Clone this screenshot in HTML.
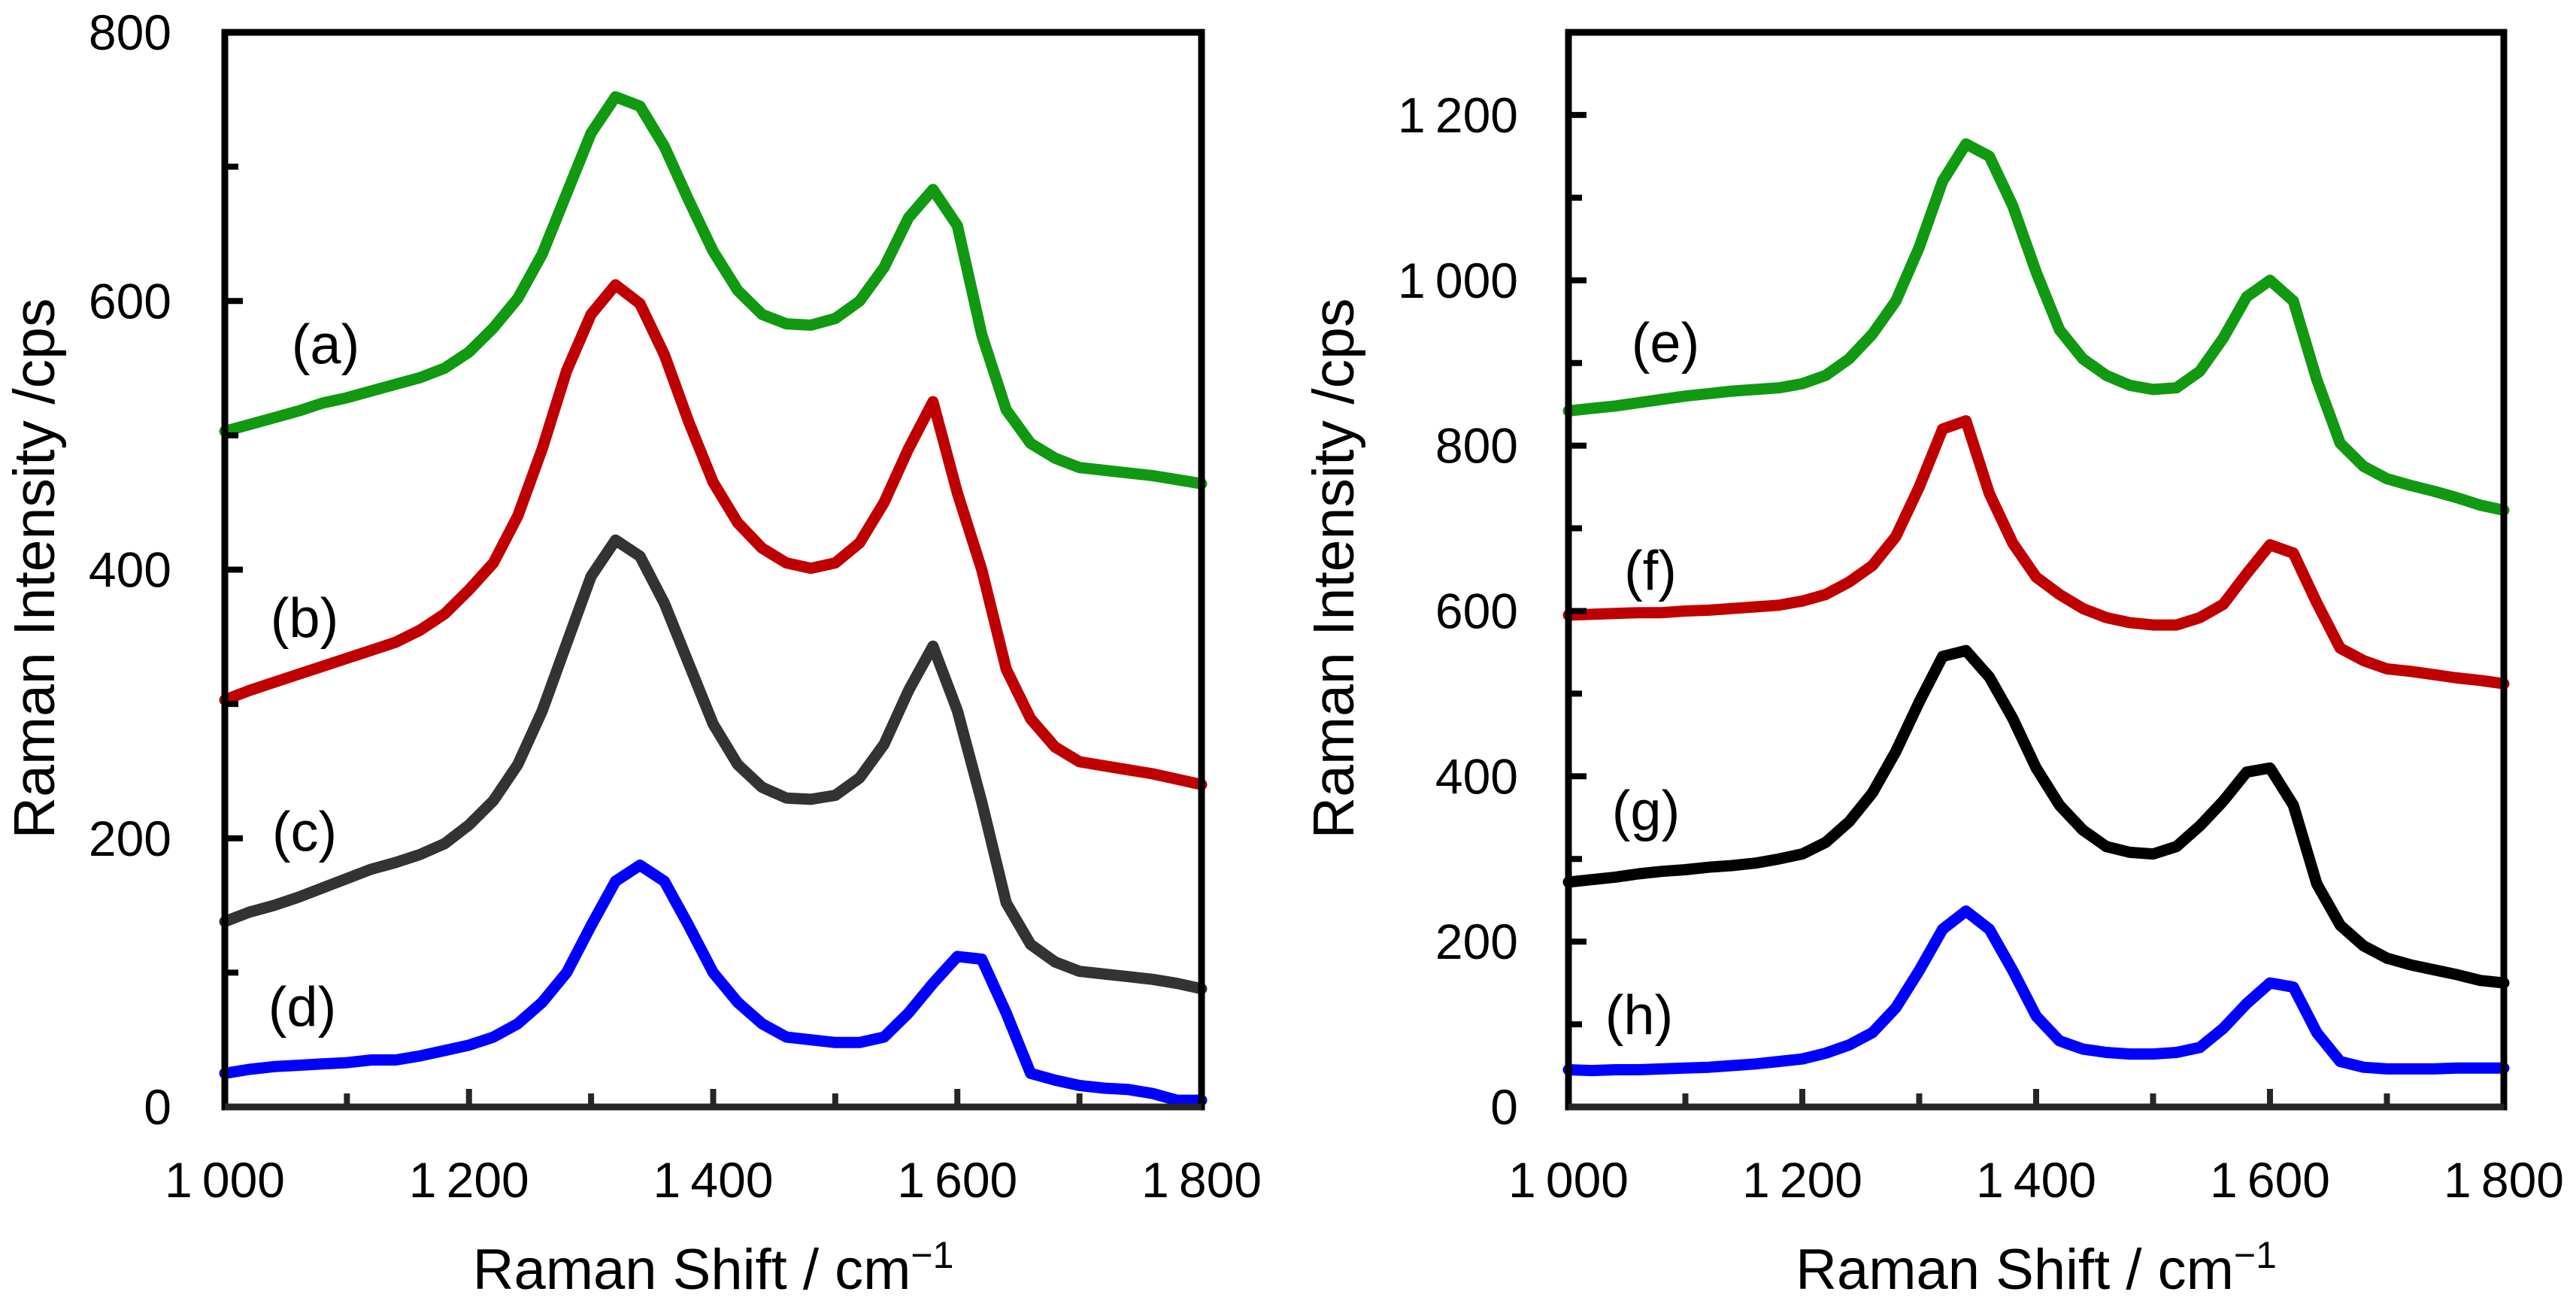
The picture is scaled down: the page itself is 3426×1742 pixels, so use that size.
<!DOCTYPE html>
<html><head><meta charset="utf-8"><style>
html,body{margin:0;padding:0;background:#fff;}
svg{display:block;}
text{font-family:"Liberation Sans",sans-serif;fill:#000;}
</style></head><body>
<svg id="chart" width="3426" height="1742" viewBox="0 0 3426 1742" xmlns="http://www.w3.org/2000/svg"></svg>
<script>
const shifts = [1000,1020,1040,1060,1080,1100,1120,1140,1160,1180,1200,1220,1240,1260,1280,1300,1320,1340,1360,1380,1400,1420,1440,1460,1480,1500,1520,1540,1560,1580,1600,1620,1640,1660,1680,1700,1720,1740,1760,1780,1800];
const seriesA = [503,508,513,518,524,528,533,538,543,550,562,580,602,635,680,725,752,745,715,675,637,608,590,583,582,587,600,625,662,683,656,575,519,494,483,476,474,472,470,467,464];
const seriesB = [303,310,316,322,328,334,340,346,355,367,385,405,440,490,548,590,612,598,560,510,465,435,416,405,401,405,420,450,490,525,457,400,326,289,268,257,254,251,248,244,240];
const seriesC = [138,145,150,156,163,170,177,182,188,196,210,228,255,295,345,395,422,410,375,330,285,255,238,230,229,232,245,270,310,343,295,227,152,121,108,101,99,97,95,92,88];
const seriesD = [25,28,30,31,32,33,35,35,38,42,46,52,62,78,100,135,168,180,168,135,100,78,62,52,50,48,48,52,70,92,112,110,70,25,20,16,14,13,10,5,5];
const seriesE = [842,845,848,852,856,860,863,866,868,870,875,885,905,935,975,1040,1120,1165,1150,1090,1010,940,905,885,873,868,870,890,930,980,1000,975,880,803,775,760,752,745,737,728,722];
const seriesF = [595,596,597,598,598,600,601,603,605,607,612,620,635,655,690,750,820,830,742,682,641,620,603,592,586,583,583,592,608,645,680,670,610,555,540,530,527,523,519,516,512];
const seriesG = [272,275,278,282,285,287,290,292,295,300,306,320,345,380,430,490,545,552,520,470,410,365,335,315,308,306,315,340,370,405,410,365,270,220,195,180,172,166,160,153,150];
const seriesH = [45,44,45,45,46,47,48,50,52,55,58,65,75,90,120,165,215,237,215,165,110,80,70,66,64,64,66,72,95,125,150,145,90,55,48,46,46,46,47,47,47];
const xTicks = [1000,1200,1400,1600,1800];
const xTickLabels = ["1 000","1 200","1 400","1 600","1 800"];
const leftYTicks = [0,200,400,600,800];
const leftYTickLabels = ["0","200","400","600","800"];
const rightYTicks = [0,200,400,600,800,1000,1200];
const rightYTickLabels = ["0","200","400","600","800","1 000","1 200"];

const NS = "http://www.w3.org/2000/svg";
const svg = document.getElementById('chart');
function mk(tag, attrs, parent){
  const e = document.createElementNS(NS, tag);
  for (const k in attrs) e.setAttribute(k, attrs[k]);
  (parent||svg).appendChild(e);
  return e;
}
function panel(p){
  const g = mk('g', {});
  
  
  const xs = v => p.x0 + (v - 1000) / 800 * (p.x1 - p.x0);
  const ys = v => p.y1 - v / p.ymax * (p.y1 - p.y0);
  p.series.forEach(s => {
    const d = shifts.map((x,i) => (i ? 'L' : 'M') + xs(x).toFixed(1) + ' ' + ys(s.vals[i]).toFixed(1)).join(' ');
    const path = mk('path', {d:d, fill:'none', stroke:s.color, 'stroke-width':15, 'stroke-linejoin':'round', 'stroke-linecap':'round'}, g);
    
    
    const t = mk('text', {x:s.lx, y:s.ly, 'font-size':74, 'text-anchor':'middle', 'dominant-baseline':'central'}, g);
    
    
    t.textContent = s.label;
  });
  for (let v = 1100; v < 1800; v += 100) {
    const major = v % 200 === 0;
    const tk = mk('line', {x1:xs(v), x2:xs(v), y1:p.y1, y2:p.y1 - (major ? 24 : 18), stroke:'#262626', 'stroke-width':8}, g);
    
    
  }
  for (let v = 100; v < p.ymax; v += 100) {
    const major = v % 200 === 0;
    const tk = mk('line', {x1:p.x0, x2:p.x0 + (major ? 24 : 18), y1:ys(v), y2:ys(v), stroke:'#000', 'stroke-width':8}, g);
    
    
  }
  const fr = mk('rect', {x:p.x0, y:p.y0, width:p.x1 - p.x0, height:p.y1 - p.y0, fill:'none', stroke:'#000', 'stroke-width':9}, g);
  
  
  const bx = mk('line', {x1:p.x0, x2:p.x1, y1:p.y1, y2:p.y1, stroke:'#262626', 'stroke-width':9}, g);
  
  
  xTicks.forEach((v,i) => {
    const t = mk('text', {x:xs(v), y:1592, 'font-size':66, 'text-anchor':'middle'}, g);
    
    
    t.textContent = xTickLabels[i].replace(' ', '\u2009');
  });
  p.yt.forEach((v,i) => {
    const t = mk('text', {x:p.ylabX, y:ys(v) + 23, 'font-size':66, 'text-anchor':'end'}, g);
    
    
    t.textContent = p.ytl[i].replace(' ', '\u2009');
  });
  const xt = mk('text', {x:(p.x0 + p.x1) / 2, y:1714, 'font-size':76, 'text-anchor':'middle'}, g);
  
  
  xt.innerHTML = 'Raman Shift / cm<tspan dy="-28" font-size="50">\u22121</tspan>';
  const yt = mk('text', {x:0, y:0, 'font-size':77, 'text-anchor':'middle', transform:'translate(' + (p.ytitleX) + ',756) rotate(-90)'}, g);
  
  
  yt.textContent = 'Raman Intensity /cps';
}
panel({name:'left-panel', x0:299, x1:1598, y0:43, y1:1472, ymax:800, yt:leftYTicks, ytl:leftYTickLabels, ylabX:228, ytitleX:72,
  series:[
    {name:'series-a', vals:seriesA, color:'#119911', label:'(a)', lx:433, ly:458},
    {name:'series-b', vals:seriesB, color:'#c00000', label:'(b)', lx:405, ly:822},
    {name:'series-c', vals:seriesC, color:'#333333', label:'(c)', lx:405, ly:1106},
    {name:'series-d', vals:seriesD, color:'#0000ff', label:'(d)', lx:402, ly:1339}
  ]});
panel({name:'right-panel', x0:2086, x1:3330, y0:43, y1:1472, ymax:1300, yt:rightYTicks, ytl:rightYTickLabels, ylabX:2019, ytitleX:1800,
  series:[
    {name:'series-e', vals:seriesE, color:'#119911', label:'(e)', lx:2215, ly:456},
    {name:'series-f', vals:seriesF, color:'#c00000', label:'(f)', lx:2195, ly:759},
    {name:'series-g', vals:seriesG, color:'#000000', label:'(g)', lx:2189, ly:1078},
    {name:'series-h', vals:seriesH, color:'#0000ff', label:'(h)', lx:2180, ly:1350}
  ]});
</script>
</body></html>
